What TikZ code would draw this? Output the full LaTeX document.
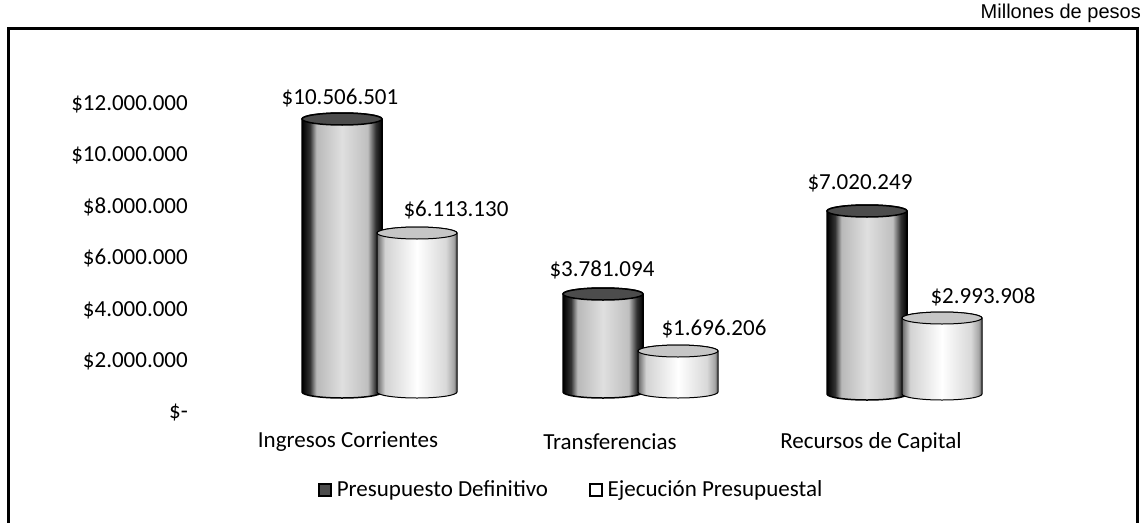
\documentclass[tikz,border=0pt]{standalone}
\usepackage{fontspec}
\setmainfont{Carlito}
\newfontfamily\unitfont{Liberation Sans}
\usetikzlibrary{positioning}
\pgfdeclarehorizontalshading{shadedef}{100bp}{color(0bp)=(black); color(25bp)=(black); color(30bp)=(black!80); color(34bp)=(gray!55); color(50bp)=(gray!25); color(66bp)=(gray!50); color(71bp)=(black!80); color(75bp)=(black); color(100bp)=(black)}
\pgfdeclarehorizontalshading{shadeejec}{100bp}{color(0bp)=(gray); color(25bp)=(black!60); color(30bp)=(gray!35); color(50bp)=(white); color(68bp)=(gray!30); color(73bp)=(gray!70); color(75bp)=(black!70); color(100bp)=(black!70)}
\tikzset{
  cyldef/.style={shading=shadedef, draw=black, line width=1.5pt},
  cylejec/.style={shading=shadeejec, draw=black, line width=1pt},
  topdef/.style={fill=black!70, draw=black, line width=1.5pt},
  topejec/.style={fill=gray!45, draw=black, line width=1pt},
  ticklbl/.style={anchor=east, inner sep=0pt},
  vallbl/.style={inner sep=0pt},
  catlbl/.style={inner sep=0pt},
  keybox/.style={minimum size=12pt, inner sep=0pt, line width=1.2pt, draw=black}
}
% style, left, right, top, bottom (pixels, y down)
\newcommand\cylinder[5]{%
  \begin{scope}[y=1pt]
  \path[cyl#1] (#2,-#4-6) -- (#2,-#5+6)
    arc[start angle=180, end angle=360, x radius={(#3-#2)/2}, y radius=6]
    -- (#3,-#4-6)
    arc[start angle=0, end angle=180, x radius={(#3-#2)/2}, y radius=6] -- cycle;
  \path[top#1] ({(#2+#3)/2},-#4-6) ellipse[x radius={(#3-#2)/2}, y radius=6];
  \end{scope}
}

\begin{document}
\begin{tikzpicture}[x=1pt, y=-1pt, font=\fontsize{23}{28}\selectfont]
\useasboundingbox (0,0) rectangle (1145,522);

% frame
\draw[line width=3pt] (8,524) -- (8,28) -- (1137,28) -- (1137,524);
\node[anchor=east, inner sep=0pt, font=\unitfont\fontsize{20}{24}\selectfont] (unit) at (1141,13) {Millones de pesos};

% axis labels
\foreach \lbl [count=\i from 0] in {12.000.000,10.000.000,8.000.000,6.000.000,4.000.000,2.000.000,-}
  \node[ticklbl] (tick\i) at (188,104+51.5*\i) {\$\lbl};

% cylinders
\cylinder{def}{302}{382}{113}{398}
\cylinder{ejec}{377}{457}{227}{398}
\cylinder{def}{563}{643}{288}{398}
\cylinder{ejec}{638}{718}{345}{398}
\cylinder{def}{827}{907}{205}{400}
\cylinder{ejec}{902}{982}{312}{400}

% values
\node[vallbl] (vic1) at (340,98) {\$10.506.501};
\node[vallbl] (vic2) at (456,210) {\$6.113.130};
\node[vallbl] (vtr1) at (602,270) {\$3.781.094};
\node[vallbl] (vtr2) at (714,329) {\$1.696.206};
\node[vallbl] (vrc1) at (860,183) {\$7.020.249};
\node[vallbl] (vrc2) at (983,297) {\$2.993.908};

% categories
\node[catlbl] (cic) at (348,442) {Ingresos Corrientes};
\node[catlbl] (ctr) at (610,442) {Transferencias};
\node[catlbl] (crc) at (871,442) {Recursos de Capital};

% legend
\node[keybox, fill=black!70] (keydef) at (325,490) {};
\node[right=5pt of keydef, inner sep=0pt] (lbldef) {Presupuesto Definitivo};
\node[keybox, fill=white, right=41pt of lbldef] (keyejec) {};
\node[right=5pt of keyejec, inner sep=0pt] (lblejec) {Ejecución Presupuestal};
\end{tikzpicture}
\end{document}
